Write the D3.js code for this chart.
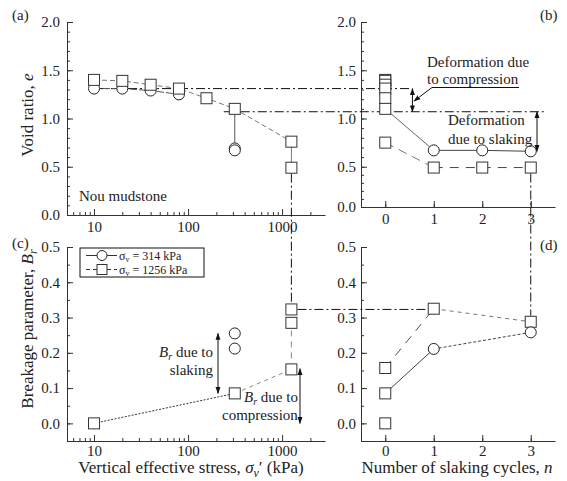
<!DOCTYPE html>
<html>
<head>
<meta charset="utf-8">
<script src="https://cdn.jsdelivr.net/npm/d3@7"></script>
<style>
  body { margin: 0; background: #fff; }
  svg text { font-family: "Liberation Serif", "Times New Roman", serif; fill: #222; }
  .axis path, .axis line { stroke: #333; }
  .axis text { font-size: 15px; font-family: "Liberation Serif", serif; fill: #222; }
</style>
</head>
<body>
<svg id="chart" width="567" height="481" font-family="Liberation Serif"></svg>
<script>
// ---- data ----
// (a) void ratio vs vertical effective stress
var stressSqA = [10, 20, 40, 80, 157, 314, 1256, 1256]
var eSqA = [1.40, 1.39, 1.35, 1.31, 1.21, 1.10, 0.76, 0.49]
var stressCircA = [10, 20, 40, 80, 314, 314]
var eCircA = [1.31, 1.31, 1.29, 1.25, 0.69, 0.67]

// (b) void ratio vs slaking cycles
var cyclesSqB = [0, 0, 0, 0, 0, 0, 0, 1, 2, 3]
var eSqB = [1.40, 1.39, 1.35, 1.31, 1.21, 1.10, 0.75, 0.49, 0.49, 0.49]
var cyclesCircB = [1, 2, 3]
var eCircB = [0.67, 0.67, 0.66]

// (c) breakage vs stress
var stressSqC = [10, 314, 1256, 1256, 1256]
var brSqC = [0.0, 0.085, 0.153, 0.285, 0.323]
var stressCircC = [314, 314]
var brCircC = [0.255, 0.212]

// (d) breakage vs slaking cycles
var cyclesSqD = [0, 0, 0, 1, 3]
var brSqD = [0.0, 0.085, 0.157, 0.325, 0.288]
var cyclesCircD = [1, 3]
var brCircD = [0.211, 0.258]

var logMajor = [10, 100, 1000]
var cycleTicks = [0, 1, 2, 3]

// ---- scales ----
var xA = d3.scaleLog().domain([5.16, 2860]).range([67, 325])
var yA = d3.scaleLinear().domain([0, 2]).range([215, 22])
var xB = d3.scaleLinear().domain([-0.5, 3.5]).range([361, 555])
var yB = d3.scaleLinear().domain([0, 0.5, 2]).range([207, 166.75, 22])
var yC = d3.scaleLinear().domain([-0.05, 0.5]).range([441, 247])
var yD = yC

var svg = d3.select('#chart')
var defs = svg.append('defs')
defs.append('marker').attr('id', 'ah')
  .attr('viewBox', '0 0 10 10').attr('refX', 9).attr('refY', 5)
  .attr('markerWidth', 7).attr('markerHeight', 7).attr('orient', 'auto-start-reverse')
  .append('path').attr('d', 'M0,1.5 L10,5 L0,8.5 Z').attr('fill', '#111')

var grey = '#555'
var dashdot = '9,3,2,3'

function pts(xs, ys) {
  return xs.map(function(d, i){ return [d, ys[i]] })
}

function logMinor() {
  var t = []
  for (var p = 1; p <= 1000; p *= 10)
    for (var k = 2; k < 10; k++) {
      var v = k * p
      if (v >= 5.16 && v <= 2860) t.push(v)
    }
  return t
}

function range(a, b, s) {
  var t = []
  for (var v = a; v <= b + 1e-9; v += s) t.push(+v.toFixed(3))
  return t
}

// ---- axes ----
function drawX(scale, y, major, minor, fmt, pad) {
  svg.append('g').attr('class', 'axis').attr('transform', 'translate(0,' + y + ')')
    .call(d3.axisBottom(scale).tickValues(minor).tickSize(-3).tickSizeOuter(0).tickFormat(''))
  svg.append('g').attr('class', 'axis').attr('transform', 'translate(0,' + y + ')')
    .call(d3.axisBottom(scale).tickValues(major).tickSize(-6).tickSizeOuter(0).tickPadding(pad).tickFormat(fmt))
    .select('.domain').remove()
}
function drawY(scale, x, major, minor, fmt, pad) {
  svg.append('g').attr('class', 'axis').attr('transform', 'translate(' + x + ',0)')
    .call(d3.axisLeft(scale).tickValues(minor).tickSize(-3).tickSizeOuter(0).tickFormat(''))
  svg.append('g').attr('class', 'axis').attr('transform', 'translate(' + x + ',0)')
    .call(d3.axisLeft(scale).tickValues(major).tickSize(-6).tickSizeOuter(0).tickPadding(pad).tickFormat(fmt))
    .select('.domain').remove()
}

var f1 = d3.format('.1f')
drawX(xA, 215, logMajor, logMinor(), d3.format('d'), 6)
drawY(yA, 67, range(0, 2, 0.5), range(0, 2, 0.1), f1, 7)
drawX(xB, 207, cycleTicks, cycleTicks, d3.format('d'), 6)
drawY(yB, 361, range(0, 2, 0.5), range(0, 2, 0.1), f1, 5)
drawX(xA, 441, logMajor, logMinor(), d3.format('d'), 4)
drawY(yC, 67, range(0, 0.5, 0.1), range(-0.05, 0.5, 0.05), f1, 7)
drawX(xB, 441, cycleTicks, cycleTicks, d3.format('d'), 4)
drawY(yD, 361, range(0, 0.5, 0.1), range(-0.05, 0.5, 0.05), f1, 5)

// ---- guide lines (dash-dot, across panels) ----
var guides = svg.append('g').attr('stroke', '#111').attr('stroke-width', 1)
  .attr('stroke-dasharray', dashdot).attr('fill', 'none')
guides.append('line').attr('x1', xA(10)).attr('x2', xB(0.55)).attr('y1', yA(1.31)).attr('y2', yA(1.31))
guides.append('line').attr('x1', xA(314) - 11).attr('x2', xB(3.3)).attr('y1', yA(1.07)).attr('y2', yA(1.07))
guides.append('line').attr('x1', xA(1256)).attr('x2', xA(1256)).attr('y1', yA(0.49) + 6).attr('y2', yC(0.323) - 6)
guides.append('line').attr('x1', xA(1256) + 6).attr('x2', xB(1) - 6).attr('y1', yC(0.323)).attr('y2', yC(0.323))
guides.append('line').attr('x1', xB(3)).attr('x2', xB(3)).attr('y1', yB(0.49) + 6).attr('y2', yD(0.288) - 6)

// ---- connecting lines ----
function seg(x, y, p, dash, col, w) {
  svg.append('path')
    .attr('d', d3.line().x(function(d){ return x(d[0]) }).y(function(d){ return y(d[1]) })(p))
    .attr('fill', 'none').attr('stroke', col || grey).attr('stroke-width', w || 1)
    .attr('stroke-dasharray', dash || null)
}
// (a)
seg(xA, yA, pts(stressSqA.slice(0, 7), eSqA.slice(0, 7)), '5,3', '#777')
seg(xA, yA, pts(stressCircA.slice(0, 4), eCircA.slice(0, 4)), '7,2')
seg(xA, yA, [[314, 1.10], [314, 0.69]], null)
seg(xA, yA, [[1256, 0.76], [1256, 0.49]], null, '#777')
// (b)
seg(xB, yB, [[0, 1.10], [1, 0.67]], null, '#666')
seg(xB, yB, pts(cyclesCircB, eCircB), null, '#444')
seg(xB, yB, [[0, 0.75], [1, 0.49]], '9,6', '#777')
seg(xB, yB, [[1, 0.49], [3, 0.49]], '9,7', '#444')
// (c)
seg(xA, yC, [[10, 0.0], [314, 0.085]], '2,1.5', '#333')
seg(xA, yC, [[314, 0.085], [1256, 0.153]], '4,4', '#888')
seg(xA, yC, [[1256, 0.153], [1256, 0.285]], '6,5', '#888')
// (d)
seg(xB, yD, [[0, 0.157], [1, 0.325]], '9,7', '#555')
seg(xB, yD, [[1, 0.325], [3, 0.288]], '4,4', '#777')
seg(xB, yD, [[0, 0.085], [1, 0.211]], null, '#444')
seg(xB, yD, [[1, 0.211], [3, 0.258]], '3,2', '#444')

// ---- markers ----
function squares(x, y, p) {
  svg.append('g').selectAll('rect').data(p).enter().append('rect')
    .attr('x', function(d){ return x(d[0]) - 5.5 }).attr('y', function(d){ return y(d[1]) - 5.5 })
    .attr('width', 11).attr('height', 11)
    .attr('fill', '#fff').attr('stroke', '#333').attr('stroke-width', 1)
}
function circles(x, y, p) {
  svg.append('g').selectAll('circle').data(p).enter().append('circle')
    .attr('cx', function(d){ return x(d[0]) }).attr('cy', function(d){ return y(d[1]) })
    .attr('r', 5.5).attr('fill', '#fff').attr('stroke', '#222').attr('stroke-width', 1)
}
circles(xA, yA, pts(stressCircA, eCircA))
squares(xA, yA, pts(stressSqA, eSqA))
squares(xB, yB, pts(cyclesSqB, eSqB))
circles(xB, yB, pts(cyclesCircB, eCircB))
squares(xA, yC, pts(stressSqC, brSqC))
circles(xA, yC, pts(stressCircC, brCircC))
squares(xB, yD, pts(cyclesSqD, brSqD))
circles(xB, yD, pts(cyclesCircD, brCircD))

// ---- arrows ----
function arrow(x1, y1, x2, y2, both) {
  var l = svg.append('line').attr('x1', x1).attr('y1', y1).attr('x2', x2).attr('y2', y2)
    .attr('stroke', '#111').attr('stroke-width', 1).attr('marker-end', 'url(#ah)')
  if (both) l.attr('marker-start', 'url(#ah)')
}
arrow(xB(0.56), yA(1.31), xB(0.56), yA(1.07), true)
arrow(537, yA(1.07), 537, yB(0.66), true)
arrow(218, yC(0.255), 218, yC(0.085), true)
arrow(300, yC(0.155), 300, yC(0.0), true)
// leader for compression label
svg.append('path').attr('d', 'M519,87.5 L432,87.5 L414,101').attr('fill', 'none')
  .attr('stroke', '#111').attr('marker-end', 'url(#ah)')

// ---- text ----
function txt(x, y, s, size, anchor) {
  return svg.append('text').attr('x', x).attr('y', y).attr('font-size', size || 15)
    .attr('text-anchor', anchor || 'start').text(s)
}
txt(12, 20, '(a)')
txt(540, 20, '(b)')
txt(12, 248, '(c)')
txt(540, 250, '(d)')
txt(79, 201, 'Nou mudstone')
txt(427, 67, 'Deformation due')
txt(427, 84, 'to compression')
txt(448, 125, 'Deformation')
txt(448, 144, 'due to slaking')

var t1 = svg.append('text').attr('x', 213).attr('y', 357).attr('font-size', 15).attr('text-anchor', 'end')
t1.append('tspan').attr('font-style', 'italic').text('B')
t1.append('tspan').attr('font-style', 'italic').attr('font-size', 10).attr('dy', 3).text('r')
t1.append('tspan').attr('dy', -3).text(' due to')
txt(213, 375, 'slaking', 15, 'end')

var t2 = svg.append('text').attr('x', 244).attr('y', 402).attr('font-size', 15)
t2.append('tspan').attr('font-style', 'italic').text('B')
t2.append('tspan').attr('font-style', 'italic').attr('font-size', 10).attr('dy', 3).text('r')
t2.append('tspan').attr('dy', -3).text(' due to')
txt(222, 420, 'compression')

// axis titles
var ty = svg.append('text').attr('transform', 'translate(33,115) rotate(-90)')
  .attr('text-anchor', 'middle').attr('font-size', 17)
ty.append('tspan').text('Void ratio, ')
ty.append('tspan').attr('font-style', 'italic').text('e')

var tb = svg.append('text').attr('transform', 'translate(33,329) rotate(-90)')
  .attr('text-anchor', 'middle').attr('font-size', 17)
tb.append('tspan').text('Breakage parameter, ')
tb.append('tspan').attr('font-style', 'italic').text('B')
tb.append('tspan').attr('font-style', 'italic').attr('font-size', 12).attr('dy', 4).text('r')

var tx = svg.append('text').attr('x', 191).attr('y', 473).attr('text-anchor', 'middle').attr('font-size', 17)
tx.append('tspan').text('Vertical effective stress, ')
tx.append('tspan').attr('font-style', 'italic').text('σ')
tx.append('tspan').attr('font-style', 'italic').attr('font-size', 12).attr('dy', 4).text('v')
tx.append('tspan').attr('dy', -4).text('′ (kPa)')

var tn = svg.append('text').attr('x', 457).attr('y', 473).attr('text-anchor', 'middle').attr('font-size', 17)
tn.append('tspan').text('Number of slaking cycles, ')
tn.append('tspan').attr('font-style', 'italic').text('n')

// ---- legend ----
var legendLabels = ['314', '1256']
var lg = svg.append('g')
lg.append('rect').attr('x', 80).attr('y', 248).attr('width', 124).attr('height', 29)
  .attr('fill', '#fff').attr('stroke', '#111').attr('stroke-width', 1)
legendLabels.forEach(function(lab, i) {
  var cy = 255.5 + i * 14
  lg.append('line').attr('x1', 86).attr('x2', 117).attr('y1', cy).attr('y2', cy)
    .attr('stroke', '#333').attr('stroke-dasharray', i ? '4,3' : null)
  if (i == 0)
    lg.append('circle').attr('cx', 102).attr('cy', cy).attr('r', 5).attr('fill', '#fff').attr('stroke', '#222')
  else
    lg.append('rect').attr('x', 97).attr('y', cy - 5).attr('width', 10).attr('height', 10)
      .attr('fill', '#fff').attr('stroke', '#333')
  var t = lg.append('text').attr('x', 119).attr('y', cy + 4).attr('font-size', 12)
  t.append('tspan').text('σ')
  t.append('tspan').attr('font-size', 8).attr('dy', 2).text('v')
  t.append('tspan').attr('dy', -2).text(' = ' + lab + ' kPa')
})
</script>
</body>
</html>
